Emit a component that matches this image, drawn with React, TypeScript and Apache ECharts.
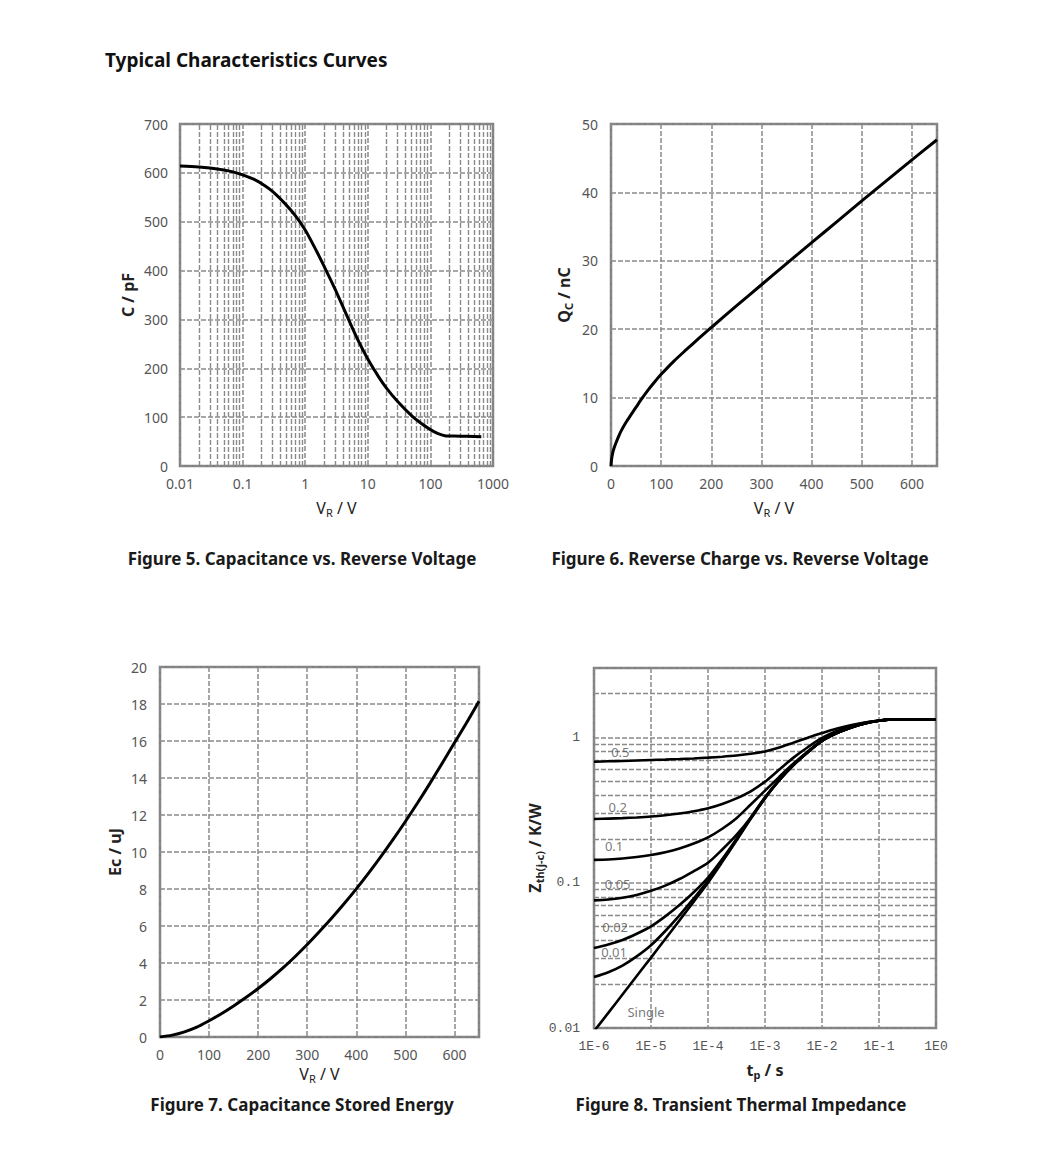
import React, { useEffect, useRef } from 'react';
import * as echarts from 'echarts';

// ---------- Figure 5: Capacitance vs Reverse Voltage ----------
const capVoltage = [0.01, 0.02, 0.03, 0.05, 0.07, 0.1, 0.15, 0.2, 0.3, 0.5, 0.7, 1, 1.5, 2, 3, 5, 7, 10, 15, 20, 30, 50, 70, 100, 130, 170, 200, 300, 500, 650];
const capValues = [614, 612, 610, 606, 602, 596, 587, 578, 562, 534, 512, 483, 441, 409, 362, 298, 257, 219, 182, 159, 132, 103, 88, 74.5, 67, 62, 61.5, 61, 60.5, 60];

// ---------- Figure 6: Reverse Charge vs Reverse Voltage ----------
const qcVoltage = [0, 1, 2, 4, 7, 10, 15, 20, 30, 40, 50, 60, 75, 90, 100, 125, 150, 175, 200, 250, 300, 350, 400, 450, 500, 550, 600, 650];
const qcValues = [0, 0.9, 1.4, 2.1, 2.8, 3.4, 4.3, 5.1, 6.4, 7.5, 8.6, 9.7, 11.2, 12.55, 13.4, 15.3, 17.0, 18.65, 20.25, 23.4, 26.5, 29.6, 32.65, 35.7, 38.75, 41.75, 44.75, 47.7];

// ---------- Figure 7: Capacitance Stored Energy ----------
const ecVoltage = [0, 25, 50, 75, 100, 125, 150, 175, 200, 225, 250, 275, 300, 325, 350, 375, 400, 425, 450, 475, 500, 525, 550, 575, 600, 625, 650];
const ecValues = [0, 0.1, 0.28, 0.53, 0.88, 1.26, 1.68, 2.13, 2.62, 3.15, 3.72, 4.34, 5.0, 5.7, 6.43, 7.2, 8.01, 8.86, 9.75, 10.68, 11.65, 12.66, 13.71, 14.8, 15.9, 17.0, 18.15];

// ---------- Figure 8: Transient Thermal Impedance ----------
const tpTimes = [1e-6, 1.78e-6, 3.16e-6, 5.62e-6, 1e-5, 1.78e-5, 3.16e-5, 5.62e-5, 1e-4, 1.78e-4, 3.16e-4, 5.62e-4, 1e-3, 1.78e-3, 3.16e-3, 5.62e-3, 1e-2, 1.78e-2, 3.16e-2, 5.62e-2, 0.1, 0.178, 1];
const zthD05 = [0.68, 0.684, 0.688, 0.693, 0.698, 0.703, 0.709, 0.716, 0.725, 0.736, 0.75, 0.77, 0.8, 0.85, 0.92, 0.995, 1.07, 1.145, 1.21, 1.265, 1.305, 1.33, 1.33];
const zthD02 = [0.274, 0.276, 0.278, 0.281, 0.285, 0.291, 0.299, 0.31, 0.325, 0.348, 0.38, 0.425, 0.495, 0.6, 0.725, 0.855, 0.99, 1.1, 1.19, 1.262, 1.302, 1.33, 1.33];
const zthD01 = [0.1435, 0.1445, 0.1465, 0.15, 0.155, 0.162, 0.172, 0.186, 0.205, 0.235, 0.278, 0.345, 0.43, 0.535, 0.66, 0.8, 0.95, 1.07, 1.166, 1.248, 1.3, 1.33, 1.33];
const zthD005 = [0.0755, 0.0765, 0.0787, 0.0824, 0.0879, 0.0955, 0.106, 0.12, 0.137, 0.169, 0.213, 0.281, 0.387, 0.509, 0.646, 0.79, 0.945, 1.065, 1.164, 1.247, 1.3, 1.33, 1.33];
const zthD002 = [0.0355, 0.0375, 0.0403, 0.0445, 0.05, 0.0586, 0.0701, 0.0859, 0.1084, 0.1455, 0.2, 0.2788, 0.384, 0.508, 0.645, 0.79, 0.945, 1.065, 1.164, 1.247, 1.3, 1.33, 1.33];
const zthD001 = [0.0224, 0.0242, 0.0269, 0.0311, 0.0371, 0.0465, 0.0596, 0.0779, 0.103, 0.1416, 0.1973, 0.2769, 0.382, 0.507, 0.645, 0.79, 0.945, 1.065, 1.164, 1.247, 1.3, 1.33, 1.33];
const zthSingle = [0.0095, 0.0127, 0.017, 0.0228, 0.0305, 0.041, 0.055, 0.074, 0.1, 0.139, 0.195, 0.275, 0.38, 0.507, 0.645, 0.79, 0.945, 1.065, 1.164, 1.247, 1.3, 1.33, 1.33];
const fig8Curves = [zthD05, zthD02, zthD01, zthD005, zthD002, zthD001, zthSingle];
const fig8LabelTexts = ['0.5', '0.2', '0.1', '0.05', '0.02', '0.01', 'Single'];
const fig8LabelT = [2.9e-6, 2.6e-6, 2.25e-6, 2.6e-6, 2.35e-6, 2.25e-6, 8.2e-6];
const fig8LabelZ = [0.79, 0.332, 0.179, 0.098, 0.0496, 0.0334, 0.0129];

// minor log grid values
const fig5MinorX = [0.02, 0.03, 0.04, 0.05, 0.06, 0.07, 0.08, 0.09, 0.2, 0.3, 0.4, 0.5, 0.6, 0.7, 0.8, 0.9, 2, 3, 4, 5, 6, 7, 8, 9, 20, 30, 40, 50, 60, 70, 80, 90, 200, 300, 400, 500, 600, 700, 800, 900];
const fig8MinorY = [0.02, 0.03, 0.04, 0.05, 0.06, 0.07, 0.08, 0.09, 0.2, 0.3, 0.4, 0.5, 0.6, 0.7, 0.8, 0.9, 2];

const zip = (xs: number[], ys: number[]) => xs.map((x, i) => [x, ys[i]]);

const GRID_COLOR = '#8a8a8a';
const BORDER_COLOR = '#7f7f7f';
const LABEL_COLOR = '#555';
const SANS = 'Noto Sans';

const dashed = { show: true, lineStyle: { color: GRID_COLOR, width: 1.5, type: [5, 2] as any } };

const subRich = {
  a: { fontSize: 16, color: '#222', fontFamily: SANS },
  b: { fontSize: 16, color: '#222', fontFamily: SANS, fontWeight: 'bold' },
  s: { fontSize: 11, color: '#222', fontFamily: SANS, padding: [9, 0, 0, 0] },
  sb: { fontSize: 11, color: '#222', fontFamily: SANS, fontWeight: 'bold', padding: [9, 0, 0, 0] },
};

const fmtNum = (v: number) => String(parseFloat(Number(v).toPrecision(3)));

function App() {
  const ref = useRef<HTMLDivElement>(null);
  useEffect(() => {
    const chart = echarts.init(ref.current!, null, { renderer: 'svg' });
    const grids = [
      { left: 180, top: 124, width: 313, height: 342 },
      { left: 611, top: 124, width: 326, height: 342 },
      { left: 160, top: 667, width: 319, height: 370 },
      { left: 594, top: 668, width: 342, height: 360 },
    ].map((g) => ({ ...g, show: true, borderColor: BORDER_COLOR, borderWidth: 2.5, backgroundColor: '#fff', containLabel: false }));

    const baseLabel = { color: LABEL_COLOR, fontFamily: SANS, fontSize: 14 };
    const monoLabel = { color: LABEL_COLOR, fontFamily: 'Liberation Mono', fontSize: 13 };
    const common = { axisLine: { show: false }, axisTick: { show: false } };
    const boldName = { fontFamily: SANS, fontWeight: 'bold', fontSize: 16, color: '#222' };

    const xAxis: any[] = [
      {
        ...common, gridIndex: 0, type: 'log', logBase: 10, min: 0.01, max: 1000,
        splitLine: dashed, axisLabel: { ...baseLabel, margin: 10, formatter: (v: number) => fmtNum(v) },
        name: '{a|V}{s|R}{a| / V}', nameLocation: 'middle', nameGap: 32, nameTextStyle: { rich: subRich },
      },
      {
        ...common, gridIndex: 1, type: 'value', min: 0, max: 650, interval: 100,
        splitLine: dashed, axisLabel: { ...baseLabel, margin: 10, formatter: (v: number) => (v % 100 === 0 ? String(v) : '') },
        name: '{a|V}{s|R}{a| / V}', nameLocation: 'middle', nameGap: 32, nameTextStyle: { rich: subRich },
      },
      {
        ...common, gridIndex: 2, type: 'value', min: 0, max: 650, interval: 100,
        splitLine: dashed, axisLabel: { ...baseLabel, margin: 10, formatter: (v: number) => (v % 100 === 0 ? String(v) : '') },
        name: '{a|V}{s|R}{a| / V}', nameLocation: 'middle', nameGap: 27, nameTextStyle: { rich: subRich },
      },
      {
        ...common, gridIndex: 3, type: 'log', logBase: 10, min: 1e-6, max: 1,
        splitLine: dashed,
        axisLabel: { ...monoLabel, margin: 12, formatter: (v: number) => '1E' + Math.round(Math.log10(v)) },
        name: '{b|t}{sb|p}{b| / s}', nameLocation: 'middle', nameGap: 32, nameTextStyle: { rich: subRich },
      },
    ];

    const yAxis: any[] = [
      {
        ...common, gridIndex: 0, type: 'value', min: 0, max: 700, interval: 100,
        splitLine: dashed, axisLabel: { ...baseLabel, margin: 12 },
        name: 'C / pF', nameLocation: 'middle', nameGap: 44, nameTextStyle: boldName,
      },
      {
        ...common, gridIndex: 1, type: 'value', min: 0, max: 50, interval: 10,
        splitLine: dashed, axisLabel: { ...baseLabel, margin: 13 },
        name: '{b|Q}{sb|C}{b| / nC}', nameLocation: 'middle', nameGap: 37, nameTextStyle: { rich: subRich },
      },
      {
        ...common, gridIndex: 2, type: 'value', min: 0, max: 20, interval: 2,
        splitLine: dashed, axisLabel: { ...baseLabel, margin: 13 },
        name: 'Ec / uJ', nameLocation: 'middle', nameGap: 37, nameTextStyle: boldName,
      },
      {
        ...common, gridIndex: 3, type: 'log', logBase: 10, min: 0.01, max: 3,
        splitLine: dashed,
        axisLabel: {
          ...monoLabel, margin: 14,
          formatter: (v: number) => {
            const l = Math.log10(v);
            return Math.abs(l - Math.round(l)) < 1e-6 ? fmtNum(v) : '';
          },
        },
        name: '{b|Z}{sb|th(j-c)}{b| / K/W}', nameLocation: 'middle', nameGap: 40, nameTextStyle: { rich: subRich },
      },
    ];

    const minorLines = (axisKey: 'xAxis' | 'yAxis', values: number[], idx: number) => ({
      type: 'line', xAxisIndex: idx, yAxisIndex: idx, data: [], silent: true, z: 1,
      markLine: {
        silent: true, symbol: 'none', animation: false, label: { show: false },
        lineStyle: { color: GRID_COLOR, width: 1.4, type: [5, 2] },
        data: values.map((v) => ({ [axisKey]: v })),
      },
    });

    const curve = (data: number[][], idx: number, width = 3) => ({
      type: 'line', xAxisIndex: idx, yAxisIndex: idx, data, smooth: 0.3, showSymbol: false, symbol: 'none',
      lineStyle: { color: '#000', width }, z: 5, silent: true,
    });

    const series: any[] = [
      minorLines('xAxis', fig5MinorX, 0),
      curve(zip(capVoltage, capValues), 0),
      curve(zip(qcVoltage, qcValues), 1),
      curve(zip(ecVoltage, ecValues), 2),
      minorLines('yAxis', fig8MinorY, 3),
      ...fig8Curves.map((c) => curve(zip(tpTimes, c), 3, 2.6)),
      {
        type: 'scatter', xAxisIndex: 3, yAxisIndex: 3, symbolSize: 1, z: 6, silent: true,
        itemStyle: { color: 'rgba(0,0,0,0)' },
        label: { show: true, position: 'inside', formatter: '{b}', color: '#555', fontFamily: SANS, fontSize: 13 },
        data: fig8LabelTexts.map((t, i) => ({ name: t, value: [fig8LabelT[i], fig8LabelZ[i]] })),
      },
    ];

    const caption = (text: string, x: number, y: number) => ({
      type: 'text', x, y,
      style: { text, fill: '#1a1a1a', font: `bold 17px "${SANS}"`, textAlign: 'center', textVerticalAlign: 'middle' },
    });

    chart.setOption({
      animation: false,
      backgroundColor: '#fff',
      grid: grids,
      xAxis, yAxis, series,
      graphic: [
        { type: 'text', x: 105, y: 60, style: { text: 'Typical Characteristics Curves', fill: '#111', font: `bold 19px "${SANS}"`, textAlign: 'left', textVerticalAlign: 'middle' } },
        caption('Figure 5. Capacitance vs. Reverse Voltage', 302, 558),
        caption('Figure 6. Reverse Charge vs. Reverse Voltage', 740, 558),
        caption('Figure 7. Capacitance Stored Energy', 302, 1104),
        caption('Figure 8. Transient Thermal Impedance', 741, 1104),
      ],
    });
    return () => chart.dispose();
  }, []);
  return <div ref={ref} style={{ position: 'fixed', left: 0, top: 0, width: 1060, height: 1165 }} />;
}

export default App;
